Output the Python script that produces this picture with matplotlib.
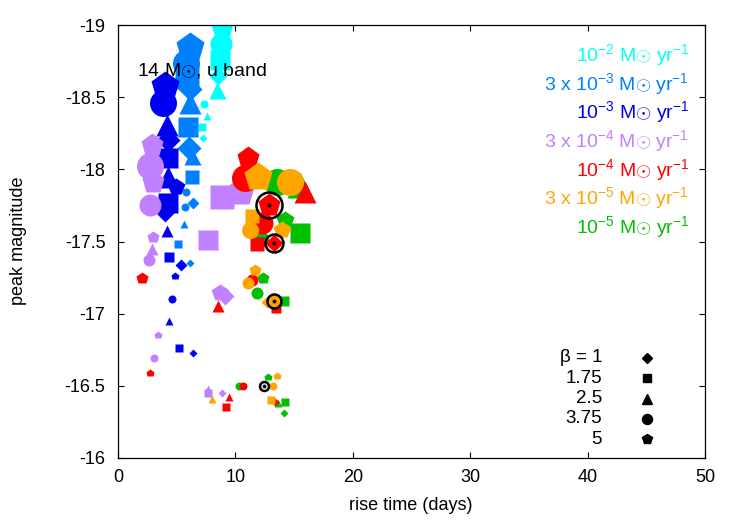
import matplotlib
matplotlib.use('Agg')
import matplotlib.pyplot as plt

plt.rcParams['font.family'] = ['Liberation Sans', 'DejaVu Sans']
plt.rcParams['mathtext.fontset'] = 'custom'
plt.rcParams['mathtext.rm'] = 'Liberation Sans'
plt.rcParams['mathtext.it'] = 'Liberation Sans'
plt.rcParams['mathtext.sf'] = 'Liberation Sans'

# ---------------- data ----------------
rate_labels = [r'10$^{-2}$ M$\odot$ yr$^{-1}$',
               r'3 x 10$^{-3}$ M$\odot$ yr$^{-1}$',
               r'10$^{-3}$ M$\odot$ yr$^{-1}$',
               r'3 x 10$^{-4}$ M$\odot$ yr$^{-1}$',
               r'10$^{-4}$ M$\odot$ yr$^{-1}$',
               r'3 x 10$^{-5}$ M$\odot$ yr$^{-1}$',
               r'10$^{-5}$ M$\odot$ yr$^{-1}$']
beta_values = [1, 1.75, 2.5, 3.75, 5]
beta_labels = ['β = 1', '1.75', '2.5', '3.75', '5']

# 10^-2
cyan_beta  = [5, 3.75, 1.75, 1, 2.5, 3.75, 2.5, 1.75, 1]
cyan_level = [4, 4, 4, 3, 3, 1, 1, 1, 1]
cyan_rise  = [8.86, 8.77, 8.69, 8.52, 8.43, 7.33, 7.58, 7.16, 7.24]
cyan_mag   = [-18.98, -18.87, -18.76, -18.65, -18.55, -18.45, -18.37, -18.29, -18.22]

# 3 x 10^-3
azure_beta  = [5, 3.75, 1.75, 1, 2.5, 1.75, 1, 2.5, 1.75, 1, 3.75, 3.75, 2.5, 1.75, 1]
azure_level = [5, 5, 5, 4, 4, 4, 4, 3, 3, 2, 1, 1, 1, 1, 1]
azure_rise  = [6.13, 5.79, 5.88, 6.13, 6.13, 5.96, 6.05, 6.30, 6.30, 6.39, 5.79, 5.71, 5.62, 5.11, 6.13]
azure_mag   = [-18.85, -18.74, -18.64, -18.56, -18.46, -18.29, -18.15, -18.09, -17.95, -17.77,
               -17.84, -17.74, -17.62, -17.48, -17.35]

# 10^-3
blue_beta  = [5, 3.75, 2.5, 1, 1.75, 2.5, 5, 1.75, 1, 2.5, 1.75, 1, 5, 3.75, 2.5, 1.75, 1]
blue_level = [5, 5, 4, 4, 4, 4, 3, 4, 3, 2, 2, 2, 1, 1, 1, 1, 1]
blue_rise  = [4.00, 3.83, 4.17, 4.26, 4.26, 4.26, 4.94, 4.26, 4.00, 4.17, 4.34, 5.37, 4.86, 4.60, 4.34, 5.20, 6.39]
blue_mag   = [-18.58, -18.46, -18.31, -18.20, -18.08, -17.95, -17.88, -17.77, -17.70, -17.57,
              -17.39, -17.34, -17.26, -17.10, -16.95, -16.76, -16.73]

# 3 x 10^-4
purple_beta  = [5, 3.75, 5, 3.75, 1.75, 5, 1.75, 5, 2.5, 3.75, 5, 1, 5, 3.75, 2.5, 1.75, 1]
purple_level = [4, 5, 4, 4, 5, 5, 4, 2, 2, 2, 3, 3, 1, 1, 1, 1, 1]
purple_rise  = [2.90, 2.73, 2.98, 2.73, 8.86, 10.39, 7.67, 2.98, 2.90, 2.64, 8.69, 9.11, 3.41, 3.07, 7.67, 7.67, 8.86]
purple_mag   = [-18.17, -18.02, -17.91, -17.75, -17.81, -17.84, -17.51, -17.53, -17.45, -17.37,
                -17.14, -17.12, -16.85, -16.69, -16.48, -16.45, -16.45]

# 10^-5
green_beta  = [3.75, 2.5, 1.75, 5, 3.75, 5, 3.75, 1.75, 3.75, 5, 2.5, 1.75, 1]
green_level = [5, 5, 4, 3, 3, 2, 2, 2, 1, 1, 1, 1, 1]
green_rise  = [13.54, 15.50, 15.50, 14.22, 12.10, 12.35, 11.84, 14.14, 10.31, 12.78, 13.63, 14.22, 14.14]
green_mag   = [-17.91, -17.89, -17.56, -17.65, -17.52, -17.25, -17.14, -17.09, -16.50, -16.56,
               -16.38, -16.39, -16.31]

# 10^-4
red_beta  = [5, 3.75, 2.5, 5, 3.75, 1.75, 1, 3.75, 1.75, 5, 2.5, 5, 3.75, 2.5, 1.75, 1]
red_level = [4, 5, 4, 4, 4, 3, 3, 2, 2, 2, 2, 1, 1, 1, 1, 1]
red_rise  = [11.07, 10.82, 15.93, 12.86, 12.27, 11.84, 13.29, 11.41, 13.46, 2.04, 8.52, 2.73, 10.65, 9.45, 9.20, 13.37]
red_mag   = [-18.08, -17.94, -17.84, -17.75, -17.63, -17.48, -17.49, -17.23, -17.04, -17.25,
             -17.05, -16.59, -16.50, -16.42, -16.35, -16.39]

# 3 x 10^-5
orange_beta  = [5, 3.75, 1.75, 3.75, 5, 5, 3.75, 1, 3.75, 3.75, 5, 1.75, 2.5]
orange_level = [5, 5, 3, 3, 3, 2, 2, 2, 2, 1, 1, 1, 1]
orange_rise  = [11.93, 14.65, 11.41, 11.24, 13.97, 11.67, 11.07, 12.69, 13.29, 13.20, 13.54, 13.03, 8.01]
orange_mag   = [-17.95, -17.91, -17.68, -17.58, -17.58, -17.30, -17.21, -17.08, -17.09, -16.50,
                -16.57, -16.40, -16.41]

# highlighted models
ring_rise  = [12.86, 13.29, 13.29, 12.44]
ring_mag   = [-17.75, -17.49, -17.09, -16.50]
ring_level = [4, 3, 2, 1]

# ---------------- style ----------------
colors = ['#00FFFF', '#0080FF', '#0000F0', '#C080FF', '#FF0000', '#FFA500', '#00C000']
shape = {1: 'D', 1.75: 's', 2.5: '^', 3.75: 'o', 5: 'p'}
shape_scale = {'D': 0.75, 's': 0.88, '^': 1.0, 'o': 1.0, 'p': 1.08}
level_px = {1: 8, 2: 12, 3: 17, 4: 22, 5: 27}
ring_px = {1: 9, 2: 14, 3: 18, 4: 26}
PX2PT = 0.72

W, H = 747, 523
fig = plt.figure(figsize=(W / 100, H / 100), dpi=100)
L, R, T, B = 118, 705, 25, 458
ax = fig.add_axes([L / W, 1 - B / H, (R - L) / W, (B - T) / H])

series = [
    (colors[0], cyan_beta, cyan_level, cyan_rise, cyan_mag),
    (colors[1], azure_beta, azure_level, azure_rise, azure_mag),
    (colors[2], blue_beta, blue_level, blue_rise, blue_mag),
    (colors[3], purple_beta, purple_level, purple_rise, purple_mag),
    (colors[6], green_beta, green_level, green_rise, green_mag),
    (colors[4], red_beta, red_level, red_rise, red_mag),
    (colors[5], orange_beta, orange_level, orange_rise, orange_mag),
]
for col, bb, ll, xx, yy in series:
    for b, l, x, y in zip(bb, ll, xx, yy):
        m = shape[b]
        ax.plot([x], [y], ls='none', marker=m, color=col, mec='none',
                ms=level_px[l] * PX2PT * shape_scale[m])

for x, y, l in zip(ring_rise, ring_mag, ring_level):
    ax.plot([x], [y], ls='none', marker='o', mfc='none', mec='black', mew=1.8,
            ms=ring_px[l] * PX2PT)
    ax.plot([x], [y], ls='none', marker='o', color='black', ms=1.8)

ax.set_xlim(0, 50)
ax.set_ylim(-16, -19)
ax.set_xticks([0, 10, 20, 30, 40, 50])
ax.set_yticks([-19, -18.5, -18, -17.5, -17, -16.5, -16])
ax.set_yticklabels(['-19', '-18.5', '-18', '-17.5', '-17', '-16.5', '-16'])
ax.set_xticklabels(['0', '10', '20', '30', '40', '50'])
ax.tick_params(direction='in', top=True, right=True, length=4.5, width=0.8,
               labelsize=13)
ax.tick_params(axis='x', pad=8)
ax.tick_params(axis='y', pad=9)
for s in ax.spines.values():
    s.set_linewidth(0.9)

fig.text(411 / W, 1 - 505 / H, 'rise time (days)', ha='center', va='center', fontsize=13)
fig.text(19 / W, 1 - 241 / H, 'peak magnitude', ha='center', va='center',
         rotation=90, fontsize=13)

fig.text(137 / W, 1 - 75 / H, r'14 M$\odot$, u band', ha='left', va='baseline', fontsize=14)

# mass-loss rate legend
for i, (lab, col) in enumerate(zip(rate_labels, colors)):
    fig.text(689 / W, 1 - (61 + 28.7 * i) / H, lab, color=col, ha='right',
             va='baseline', fontsize=14)

# beta legend
for i, (b, lab) in enumerate(zip(beta_values, beta_labels)):
    py = 358 + 20.3 * i
    fig.text(602 / W, 1 - py / H, lab, ha='right', va='center', fontsize=13.5)
    m = shape[b]
    ax.plot([(647 - L) / (R - L)], [(B - py) / (B - T)], transform=ax.transAxes,
            ls='none', marker=m, color='black', ms=10 * PX2PT * shape_scale[m],
            clip_on=False)

fig.savefig('out.png', dpi=100)
